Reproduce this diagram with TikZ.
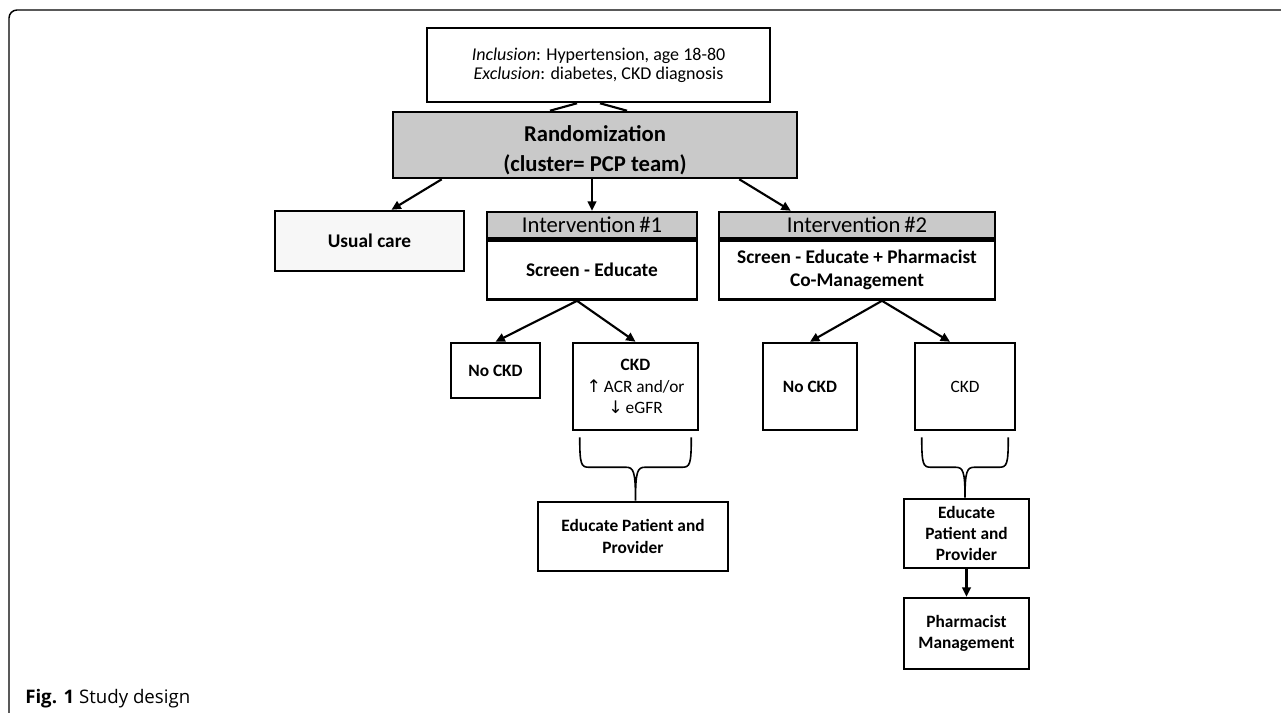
\documentclass[tikz,border=0pt]{standalone}
\usepackage{fontspec}
\setmainfont{Carlito}
\newfontfamily\capfont{Open Sans}
\newfontfamily\symfont{DejaVu Sans}
\usetikzlibrary{arrows.meta,calc}

% curly brace under a CKD box, tip on the next box
\newcommand{\ckdbrace}[2]{%
	\draw[brc] let \p1=(#1.south west), \p2=(#1.south east), \p3=(#1.south |- #2.north) in
		(\x1+6pt,\y1-4.5pt) .. controls (\x1+6pt,\y1-25pt) and (\x1+7pt,\y1-27pt) .. (\x1+13pt,\y1-27pt)
		-- (\x3-7pt,\y1-27pt) .. controls (\x3-1.5pt,\y1-27pt) and (\x3,\y1-30pt) .. (\x3,\y3)
		(\x2-6pt,\y1-4.5pt) .. controls (\x2-6pt,\y1-25pt) and (\x2-7pt,\y1-27pt) .. (\x2-13pt,\y1-27pt)
		-- (\x3+7pt,\y1-27pt) .. controls (\x3+1.5pt,\y1-27pt) and (\x3,\y1-30pt) .. (\x3,\y3);
}

\tikzset{
	box/.style={draw, line width=1.9pt, align=center, inner sep=0pt},
	hdr/.style={box, fill=black!21, font=\fontsize{17}{18}\selectfont},
	body/.style={box, fill=white, font=\fontsize{14.5}{17.5}\selectfont\bfseries},
	small/.style={box, font=\fontsize{13}{16}\selectfont},
	smallb/.style={small, font=\fontsize{13}{16}\selectfont\bfseries},
	link/.style={line width=1.6pt},
	brc/.style={line width=1.2pt},
	>={Triangle[length=7pt,width=6.5pt]}
}

\begin{document}
\begin{tikzpicture}[x=0.75pt, y=-0.75pt]
	\useasboundingbox (0,0) rectangle (1281,713);
	\draw[line width=1.1pt, rounded corners=6pt] (9,713) -- (9,10) -- (1281,10);

	\node[box, minimum width=257.25pt, minimum height=55.5pt, font=\fontsize{13.5}{14.5}\selectfont] at (598.5,65) (incl) {\textit{Inclusion}: Hypertension, age 18-80\\ \textit{Exclusion}: diabetes, CKD diagnosis};
	\node[box, fill=black!21, minimum width=303pt, minimum height=49.5pt, font=\fontsize{17}{22.5}\selectfont\bfseries] at (595,145) (rand) {\rule{0pt}{20pt}Randomization\\(cluster= PCP team)};

	\node[box, fill=black!3, minimum width=141.75pt, minimum height=45pt, font=\fontsize{14.5}{17}\selectfont\bfseries] at (369.5,241) (usual) {Usual care};

	\node[hdr, minimum width=157.5pt, minimum height=19.5pt] at (592,225) (i1h) {Intervention\,\#1};
	\node[body, anchor=north, minimum width=157.5pt, minimum height=44.25pt] at (i1h.south) (i1b) {Screen - Educate};
	\node[hdr, minimum width=207pt, minimum height=19.5pt] at (857,225) (i2h) {Intervention\,\#2};
	\node[body, anchor=north, minimum width=207pt, minimum height=44.25pt] at (i2h.south) (i2b) {Screen - Educate + Pharmacist\\Co-Management};

	\node[smallb, minimum width=66.75pt, minimum height=41.25pt] at (495.5,370.5) (nockd1) {No CKD};
	\node[small, minimum width=93.75pt, minimum height=65.25pt] at (635.5,386.5) (ckd1) {\textbf{CKD}\\{\symfont\char"2191}\,ACR and/or\\{\symfont\char"2193}\,eGFR};
	\node[smallb, minimum width=142.5pt, minimum height=51.75pt] at (633,536.5) (edu1) {Educate Patient and\\Provider};

	\node[smallb, minimum width=70.5pt, minimum height=65.25pt] at (810,386.5) (nockd2) {No CKD};
	\node[small, minimum width=75pt, minimum height=65.25pt] at (965,386.5) (ckd2) {CKD};
	\node[smallb, minimum width=93.75pt, minimum height=51.75pt] at (966.5,533.5) (edu2) {Educate\\Patient and\\Provider};
	\node[smallb, minimum width=93.75pt, minimum height=53.25pt] at (966.5,633.5) (pharm) {Pharmacist\\Management};

	\node[anchor=base west, inner sep=0pt, font=\capfont\fontsize{14}{16}\selectfont] at (25,703) (cap) {\textbf{Fig. 1} Study design};

	\draw[link] ($(rand.north)+(-45,0)$) -- ($(incl.south)+(-21.5,0)$);
	\draw[link] ($(incl.south)+(1.5,0)$) -- ($(rand.north)+(32,0)$);
	\path[link,->] ($(rand.south west)+(50,0)$) edge ($(usual.north)+(22,0)$);
	\path[link,->] (rand.south -| i1h.north) edge (i1h.north);
	\path[link,->] ($(rand.south east)+(-59,0)$) edge ($(i2h.north west)+(73,0)$);
	\path[link,->] ($(i1b.south)+(-15,0)$) edge (nockd1.north);
	\path[link,->] ($(i1b.south)+(-15,0)$) edge (ckd1.north);
	\path[link,->] ($(i2b.south)+(25,0)$) edge (nockd2.north);
	\path[link,->] ($(i2b.south)+(25,0)$) edge ($(ckd2.north)+(-15,0)$);
	\ckdbrace{ckd1}{edu1}
	\ckdbrace{ckd2}{edu2}
	\path[link,->] (edu2) edge (pharm);
\end{tikzpicture}
\end{document}
